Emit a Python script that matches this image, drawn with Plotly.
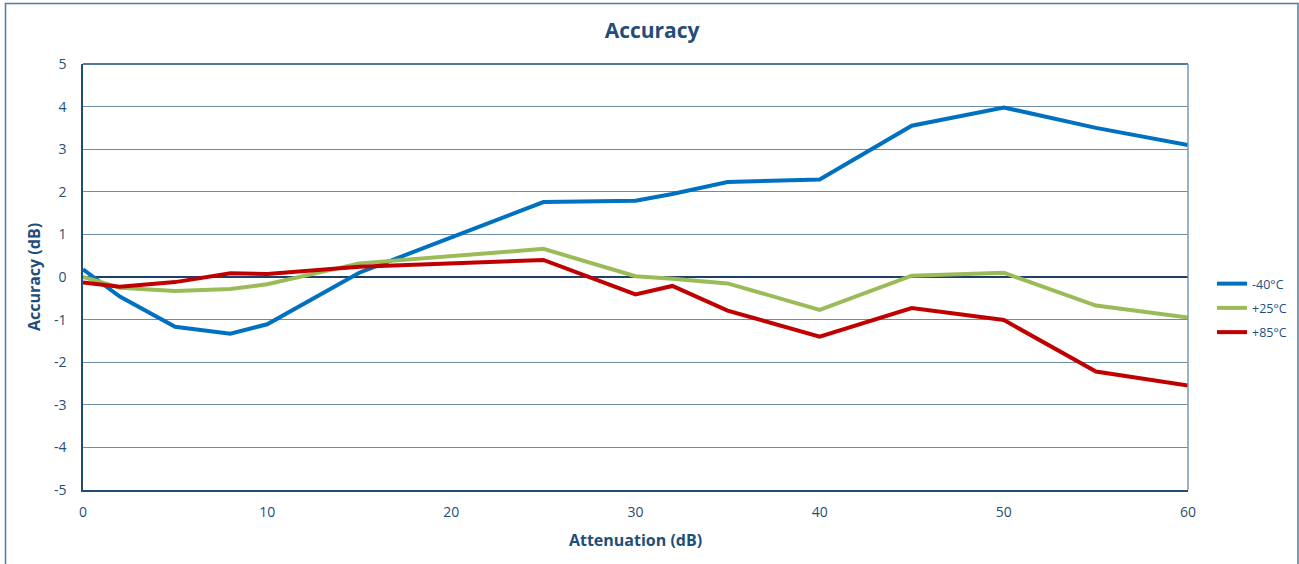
import plotly.graph_objects as go

attenuation = [0, 2, 5, 8, 10, 15, 25, 30, 32, 35, 40, 45, 50, 55, 60]
acc_m40 = [0.18, -0.46, -1.17, -1.33, -1.11, 0.10, 1.76, 1.79, 1.95, 2.23, 2.29, 3.55, 3.98, 3.50, 3.10]
acc_p25 = [0.00, -0.25, -0.33, -0.28, -0.17, 0.32, 0.66, 0.02, -0.04, -0.15, -0.77, 0.03, 0.10, -0.67, -0.95]
acc_p85 = [-0.13, -0.23, -0.12, 0.09, 0.07, 0.24, 0.40, -0.41, -0.21, -0.79, -1.40, -0.73, -1.01, -2.22, -2.55]
series_names = ["-40°C", "+25°C", "+85°C"]
series_colors = ["#0070C0", "#9BBB59", "#C00000"]
y_ticks = [-5, -4, -3, -2, -1, 0, 1, 2, 3, 4, 5]
y_tick_text = [str(v) for v in y_ticks]
x_ticks = [0, 10, 20, 30, 40, 50, 60]

TXT = "#1F4E79"
FONT = "Open Sans"

fig = go.Figure()
for name, vals, col in zip(series_names, [acc_m40, acc_p25, acc_p85], series_colors):
    fig.add_trace(go.Scatter(x=attenuation, y=vals, mode="lines", name=name,
                             legendgroup=name,
                             line=dict(color=col, width=4)))

fig.update_layout(
    width=1299, height=564, autosize=False,
    margin=dict(l=83, r=111, t=64, b=74),
    paper_bgcolor="white", plot_bgcolor="white",
    font=dict(family=FONT, color=TXT, size=13),
    title=dict(text="<b>Accuracy</b>", x=0.502, xref="container", xanchor="center",
               y=1 - 31 / 564, yanchor="middle", yref="container",
               font=dict(size=21, color=TXT, family=FONT)),
    showlegend=True,
    legend=dict(xref="container", yref="container",
                x=1212 / 1299, y=1 - 308 / 564, xanchor="left", yanchor="middle",
                font=dict(size=12.5, color=TXT, family=FONT),
                itemwidth=30, tracegroupgap=5, bgcolor="rgba(0,0,0,0)"),
    xaxis=dict(range=[0, 60], tickvals=x_ticks, showgrid=False, zeroline=False,
               automargin=False,
               showline=True, linecolor=TXT, linewidth=1.5, mirror=False,
               ticks="", tickfont=dict(size=14, color=TXT), ticklabelstandoff=8,
               title=dict(text="<b>Attenuation (dB)</b>", font=dict(size=16, color=TXT), standoff=15)),
    yaxis=dict(range=[-5, 5], tickvals=y_ticks, ticktext=y_tick_text,
               showgrid=True, gridcolor="#6A8CA6", gridwidth=1.2,
               automargin=False,
               zeroline=True, zerolinecolor="#1F3F66", zerolinewidth=1.5,
               showline=True, linecolor=TXT, linewidth=1.5,
               ticks="", tickfont=dict(size=14, color=TXT), ticklabelstandoff=12,
               title=dict(text="<b>Accuracy (dB)</b>", font=dict(size=16, color=TXT), standoff=9)),
)

# plot-area top and right frame
fig.add_shape(type="line", xref="paper", yref="paper", x0=0, x1=1, y0=1, y1=1,
              line=dict(color=TXT, width=1.5))
fig.add_shape(type="line", xref="paper", yref="paper", x0=1, x1=1, y0=0, y1=1,
              line=dict(color="#7A9AB2", width=1.5))
# outer chart border
fig.add_shape(type="rect", xref="paper", yref="paper",
              x0=(5.5 - 83) / 1105, x1=(1298 - 83) / 1105,
              y0=(490 - 600) / 426, y1=(490 - 3.5) / 426,
              line=dict(color="#4A7EA6", width=1.5), layer="below")

post = (
    "document.documentElement.style.margin='0';"
    "document.documentElement.style.overflow='hidden';"
    "document.body.style.margin='0';document.body.style.overflow='hidden';"
)
fig.write_html("out.html",
               config={"responsive": False, "displayModeBar": False},
               post_script=post)
